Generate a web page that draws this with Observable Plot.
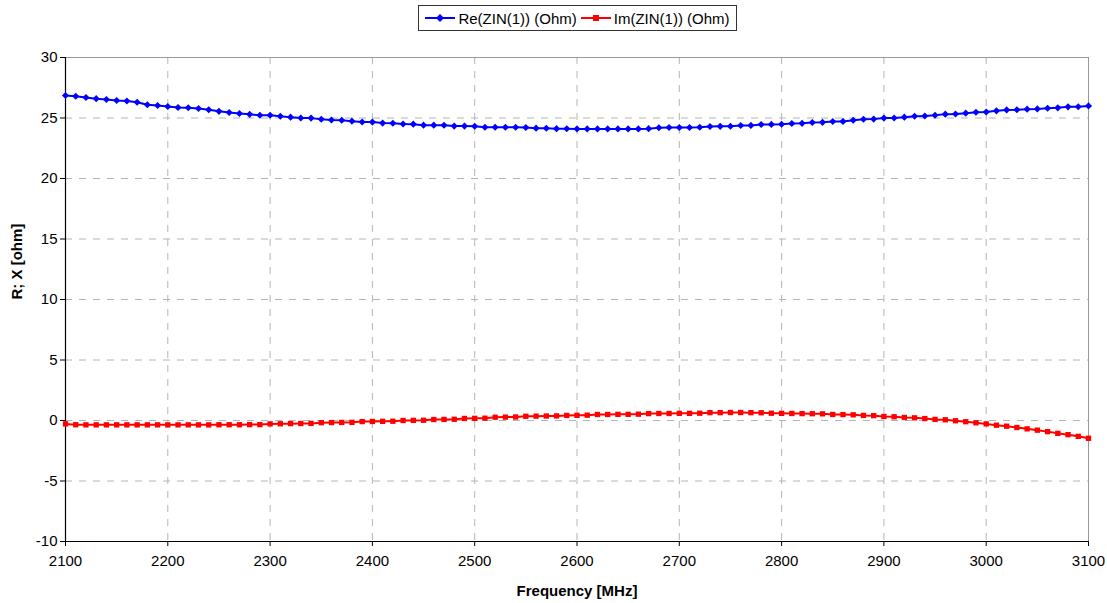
<!DOCTYPE html>
<html>
<head>
<meta charset="utf-8">
<script src="https://cdn.jsdelivr.net/npm/d3@7"></script>
<script src="https://cdn.jsdelivr.net/npm/@observablehq/plot@0.6"></script>
<style>
  html, body { margin: 0; padding: 0; background: #fff; }
  body { width: 1107px; height: 603px; position: relative; font-family: "Liberation Sans", Arial, sans-serif; }
  #legend { position: absolute; left: 418px; top: 5px; width: 317px; height: 24px; border: 1px solid #333; background: #fff;
            display: flex; align-items: center; justify-content: center; gap: 4px; font-size: 15px; color: #000; }
  #legend .item { display: flex; align-items: center; gap: 2px; }
  #chart { position: absolute; left: 0; top: 36px; }
  #chart svg text { font-family: "Liberation Sans", Arial, sans-serif; }
</style>
</head>
<body>
<div id="legend"></div>
<div id="chart"></div>
<script>
const freq = [2100,2110,2120,2130,2140,2150,2160,2170,2180,2190,
  2200,2210,2220,2230,2240,2250,2260,2270,2280,2290,
  2300,2310,2320,2330,2340,2350,2360,2370,2380,2390,
  2400,2410,2420,2430,2440,2450,2460,2470,2480,2490,
  2500,2510,2520,2530,2540,2550,2560,2570,2580,2590,
  2600,2610,2620,2630,2640,2650,2660,2670,2680,2690,
  2700,2710,2720,2730,2740,2750,2760,2770,2780,2790,
  2800,2810,2820,2830,2840,2850,2860,2870,2880,2890,
  2900,2910,2920,2930,2940,2950,2960,2970,2980,2990,
  3000,3010,3020,3030,3040,3050,3060,3070,3080,3090,3100];

const reZ = [26.86,26.80,26.70,26.60,26.53,26.45,26.40,26.30,26.10,26.03,
  25.95,25.87,25.85,25.78,25.68,25.55,25.45,25.37,25.30,25.23,
  25.23,25.15,25.07,25.00,24.99,24.90,24.83,24.82,24.74,24.67,
  24.66,24.58,24.57,24.50,24.49,24.41,24.41,24.40,24.33,24.33,
  24.32,24.24,24.24,24.23,24.23,24.22,24.16,24.15,24.12,24.11,
  24.10,24.10,24.10,24.10,24.10,24.10,24.10,24.12,24.20,24.21,
  24.21,24.22,24.23,24.30,24.31,24.32,24.38,24.39,24.46,24.47,
  24.48,24.55,24.56,24.63,24.64,24.71,24.72,24.82,24.90,24.91,
  24.99,25.00,25.07,25.15,25.16,25.23,25.32,25.33,25.40,25.48,
  25.49,25.59,25.67,25.68,25.73,25.75,25.81,25.84,25.92,25.93,26.00];

const imZ = [-0.28,-0.35,-0.36,-0.36,-0.36,-0.36,-0.36,-0.36,-0.36,-0.36,
  -0.36,-0.36,-0.36,-0.36,-0.36,-0.35,-0.35,-0.35,-0.34,-0.34,
  -0.28,-0.27,-0.26,-0.25,-0.24,-0.18,-0.17,-0.16,-0.15,-0.09,
  -0.08,-0.07,-0.06,0.00,0.01,0.02,0.08,0.09,0.10,0.17,
  0.18,0.19,0.27,0.28,0.29,0.35,0.36,0.37,0.38,0.42,
  0.43,0.44,0.50,0.50,0.51,0.51,0.52,0.57,0.58,0.58,
  0.59,0.59,0.60,0.65,0.65,0.66,0.66,0.65,0.64,0.60,
  0.59,0.58,0.57,0.56,0.55,0.50,0.49,0.47,0.42,0.40,
  0.33,0.31,0.25,0.22,0.16,0.09,0.06,-0.02,-0.10,-0.19,
  -0.28,-0.39,-0.47,-0.58,-0.69,-0.80,-0.92,-1.06,-1.17,-1.31,-1.47];

const seriesNames = ["Re(ZIN(1)) (Ohm)", "Im(ZIN(1)) (Ohm)"];
const seriesColors = ["#0000ff", "#ff0000"];
const xTicks = [2100,2200,2300,2400,2500,2600,2700,2800,2900,3000,3100];
const yTicks = [-10,-5,0,5,10,15,20,25,30];
const xLabel = "Frequency [MHz]";
const yLabel = "R; X [ohm]";

const reData = freq.map((f, i) => ({f, v: reZ[i]}));
const imData = freq.map((f, i) => ({f, v: imZ[i]}));

// legend
const legend = document.getElementById("legend");
const symbols = ["diamond", "square"];
seriesNames.forEach((name, i) => {
  const item = document.createElement("span");
  item.className = "item";
  const marker = symbols[i] === "diamond"
    ? `<path d="M15,3 L19,7 L15,11 L11,7 Z" fill="${seriesColors[i]}"/>`
    : `<rect x="12" y="4" width="6" height="6" fill="${seriesColors[i]}"/>`;
  item.innerHTML = `<svg width="31" height="14"><line x1="0" y1="7" x2="30" y2="7" stroke="${seriesColors[i]}" stroke-width="2"/>${marker}</svg><span>${name}</span>`;
  legend.appendChild(item);
});

const chart = Plot.plot({
  width: 1107,
  height: 567,
  marginTop: 21,
  marginBottom: 62,
  marginLeft: 65,
  marginRight: 19,
  style: {fontSize: "15px", fontFamily: "Liberation Sans, Arial, sans-serif", color: "#000"},
  x: {domain: [2100, 3100]},
  y: {domain: [-10, 30]},
  marks: [
    Plot.gridX(xTicks, {stroke: "#b4b4b4", strokeOpacity: 1, strokeDasharray: "7,7"}),
    Plot.gridY(yTicks, {stroke: "#b4b4b4", strokeOpacity: 1, strokeDasharray: "7,7"}),
    Plot.ruleY([30], {stroke: "#999"}),
    Plot.ruleX([3100], {stroke: "#999"}),
    Plot.ruleY([-10], {stroke: "#000", strokeWidth: 1.2}),
    Plot.ruleX([2100], {stroke: "#000", strokeWidth: 1.2}),
    Plot.axisX(xTicks, {tickSize: 5, tickPadding: 9, tickFormat: d => String(d), label: null, stroke: "#000"}),
    Plot.axisY(yTicks, {tickSize: 5, tickPadding: 3, tickFormat: d => String(d), label: null, stroke: "#000"}),
    Plot.text([xLabel], {frameAnchor: "bottom", dy: 50, text: d => d, fontWeight: "bold", fontSize: 15, lineAnchor: "middle"}),
    Plot.text([yLabel], {frameAnchor: "left", dx: -48, text: d => d, fontWeight: "bold", fontSize: 15, rotate: -90, lineAnchor: "middle"}),
    Plot.line(reData, {x: "f", y: "v", stroke: seriesColors[0], strokeWidth: 2}),
    Plot.dot(reData, {x: "f", y: "v", fill: seriesColors[0], symbol: "diamond2", r: 3.2}),
    Plot.line(imData, {x: "f", y: "v", stroke: seriesColors[1], strokeWidth: 2}),
    Plot.dot(imData, {x: "f", y: "v", fill: seriesColors[1], symbol: "square", r: 3})
  ]
});
document.getElementById("chart").appendChild(chart);
</script>
</body>
</html>
